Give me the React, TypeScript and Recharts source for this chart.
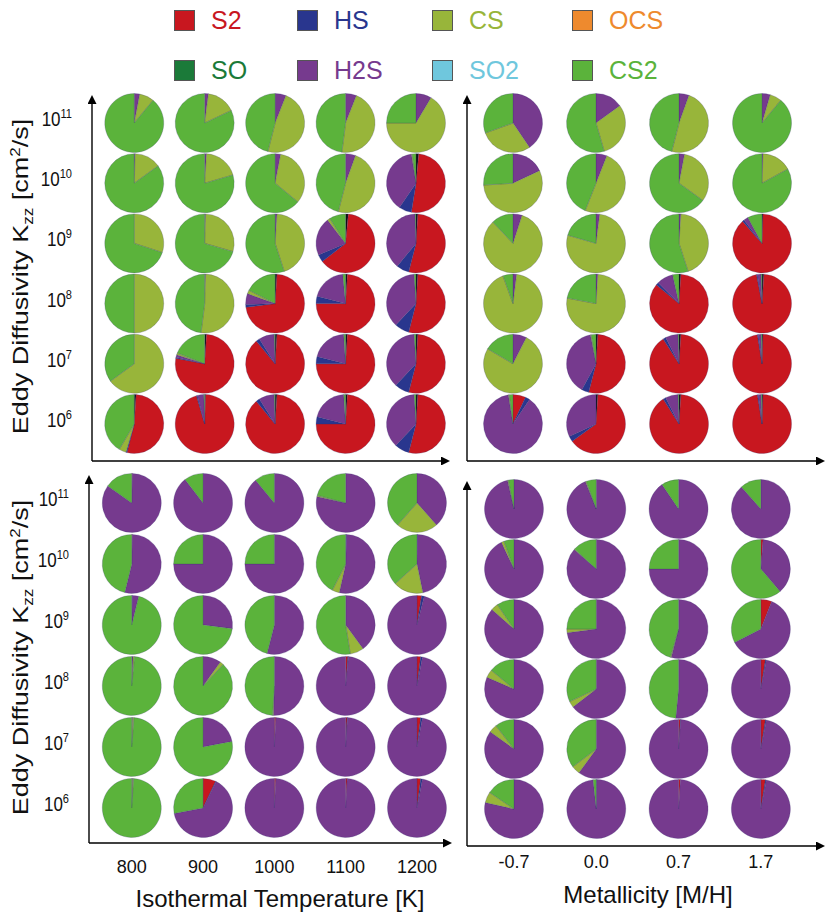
import React from "react";
import { ScatterChart, Scatter, XAxis, YAxis, Sector } from "recharts";

const species = ["S2", "HS", "CS", "OCS", "SO", "H2S", "SO2", "CS2"];
const speciesColors: Record<string, string> = {
  S2: "#C8171F",
  HS: "#29368E",
  CS: "#98B53A",
  OCS: "#EE8A2E",
  SO: "#1B7A39",
  H2S: "#763A8E",
  SO2: "#6FC7DD",
  CS2: "#5BB33B",
  trace: "#111111",
};
// slices are stacked clockwise from 12 o'clock in this order ("trace" = OCS+SO+SO2)
const sliceOrder = ["trace", "S2", "HS", "H2S", "CS", "CS2"];

const kzzExponents = [6, 7, 8, 9, 10, 11];
const temperatures = ["800", "900", "1000", "1100", "1200"];
const metallicities = ["-0.7", "0.0", "0.7", "1.7"];

// percent per slice (sliceOrder), rows = Kzz 1e6 .. 1e11
const upperTemp = [
  [[1, 53, 0.5, 0, 4, 41.5], [0.5, 95, 0.5, 3.5, 0, 0.5], [1, 88, 2, 8.5, 0, 0.5], [1, 74, 4, 20, 0, 1], [1, 53, 8, 37, 0, 1]],
  [[0, 0, 0, 0, 65, 35], [1, 77, 0.5, 1.5, 1, 19], [1, 88, 2, 8.5, 0, 0.5], [1, 74, 4, 20, 0, 1], [1, 53, 8, 37, 0, 1]],
  [[0, 0, 0, 0, 50, 50], [0, 0, 0, 0.5, 51.5, 48], [1, 72, 1.5, 6, 2, 17.5], [1, 74, 4, 19.5, 0, 1.5], [1, 53, 8, 37, 0, 1]],
  [[0, 0, 0, 0, 30, 70], [0, 0, 0, 0.5, 29, 70.5], [0, 0, 0, 1, 44, 55], [1.5, 63, 4, 21, 1.5, 9], [1, 53, 7, 38.5, 0, 0.5]],
  [[0, 0, 0, 0.5, 14.5, 85], [0, 0, 0, 1, 19.5, 79.5], [0, 0, 0, 3, 33, 64], [0, 0, 0, 5.5, 48.5, 46], [1.5, 51, 7, 38, 0.5, 2]],
  [[0, 0, 0, 3, 8, 89], [0, 0, 0, 2, 16, 82], [0, 0, 0, 6, 48, 46], [0, 0, 0, 6, 46, 48], [0, 0, 0, 8.5, 66.5, 25]],
];

const upperMetal = [
  [[0, 7, 2.5, 88, 0.5, 2], [1, 64, 3, 32, 0, 0], [1, 90, 1.5, 7, 0, 0.5], [0.5, 97, 0.5, 1.5, 0, 0.5]],
  [[0, 0, 0, 7.5, 76, 16.5], [1, 53, 4, 39, 0.5, 2.5], [1, 90, 1.5, 7, 0, 0.5], [0.5, 97, 0.5, 1.5, 0, 0.5]],
  [[0, 0, 0, 2, 92.5, 5.5], [0, 0, 0, 1, 77, 22], [1, 85, 1.5, 9, 0, 3.5], [1, 96, 0.5, 2, 0, 0.5]],
  [[0, 0, 0, 5, 83, 12], [0, 0, 0, 2, 77.5, 20.5], [0, 0, 0, 1, 44, 55], [0.5, 88, 1, 2.5, 0, 8]],
  [[0, 0, 0, 18, 56, 26], [0, 0, 0, 6, 50, 44], [0, 0, 0, 3, 32, 65], [0, 0, 0, 0.5, 16.5, 83]],
  [[0, 0, 0, 40.5, 29, 30.5], [0, 0, 0, 15, 30.5, 54.5], [0, 0, 0, 5.5, 48.5, 46], [0, 0, 0, 4.5, 6.5, 89]],
];

const lowerTemp = [
  [[0, 0, 0, 0.4, 0.6, 99], [0, 7, 0.3, 64.7, 0, 28], [0, 0.8, 0, 99.2, 0, 0], [0, 0.8, 0, 99.2, 0, 0], [0, 2, 1, 97, 0, 0]],
  [[0, 0, 0, 0.4, 0.8, 98.8], [0, 0, 0, 22, 0, 78], [0, 0.8, 0, 99.2, 0, 0], [0, 0.8, 0.2, 99, 0, 0], [0, 2, 1, 97, 0, 0]],
  [[0, 0, 0, 0.7, 0.8, 98.5], [0, 0, 0, 10, 2, 88], [0, 0, 0, 50.5, 0.5, 49], [0, 1.2, 0.3, 98.5, 0, 0], [0, 2, 1, 97, 0, 0]],
  [[0, 0, 0.3, 3.5, 0, 96.2], [0, 0, 0, 27, 0, 73], [0, 0, 0, 54, 0, 46], [0, 0, 0, 40, 7.5, 52.5], [0, 2.5, 1.5, 96, 0, 0]],
  [[0, 0.3, 0, 53.5, 0, 46.2], [0, 0, 0, 75, 0, 25], [0, 0, 0, 75, 0, 25], [0, 0, 0.5, 53, 4, 42.5], [0, 0, 0.3, 46.5, 16.5, 36.7]],
  [[0, 0.3, 0, 84.5, 0, 15.2], [0, 0, 0, 89.5, 0, 10.5], [0, 0, 0, 89, 0, 11], [0, 0, 0, 78.5, 0.7, 20.8], [0, 0, 0, 38.5, 23, 38.5]],
];

const lowerMetal = [
  [[0, 0, 0, 78.5, 6, 15.5], [0, 0, 0.3, 98, 0, 1.7], [0, 1, 0, 99, 0, 0], [0, 2.5, 0.5, 97, 0, 0]],
  [[0, 0, 0, 85, 4.5, 10.5], [0, 0, 0, 60, 4.7, 35.3], [0, 1, 0.2, 98.8, 0, 0], [0, 2.5, 0.5, 97, 0, 0]],
  [[0, 0, 0, 81.5, 4.5, 14], [0, 0, 0, 64.5, 3.5, 32], [0, 0, 0, 51.5, 0, 48.5], [0, 2.5, 0.5, 97, 0, 0]],
  [[0, 0, 0, 86.5, 4, 9.5], [0, 0, 0, 73, 2, 25], [0, 0, 0, 54, 0.5, 45.5], [0, 6, 0, 61.5, 0, 32.5]],
  [[0, 0, 0, 93, 1.5, 5.5], [0, 0, 0, 86.5, 0.3, 13.2], [0, 0, 0, 75, 0, 25], [0, 1.2, 0, 37.5, 0, 61.3]],
  [[0, 0, 0, 96.5, 0.5, 3], [0, 0, 0, 94, 0.5, 5.5], [0, 0, 0, 90.5, 0, 9.5], [0, 0, 0, 88.5, 0, 11.5]],
];

const FONT = "'Liberation Sans', Arial, Helvetica, sans-serif";
const R = 29.5;
const PAD = 14;

const PieGlyph = (props: any) => {
  const { cx, cy, payload } = props;
  const vals: number[] = payload.v;
  const total = vals.reduce((a, b) => a + b, 0);
  let acc = 0;
  return (
    <g>
      {vals.map((val, i) => {
        if (!val) return null;
        const a0 = (acc / total) * 360;
        acc += val;
        const a1 = (acc / total) * 360;
        return (
          <Sector
            key={i}
            cx={cx}
            cy={cy}
            innerRadius={0}
            outerRadius={R}
            startAngle={90 - a0}
            endAngle={90 - a1}
            fill={speciesColors[sliceOrder[i]]}
            stroke="rgba(50,50,110,0.45)"
            strokeWidth={0.5}
          />
        );
      })}
    </g>
  );
};

type PanelProps = {
  rows: number[][][];
  labels: string[];
  box: { left: number; top: number; right: number; bottom: number };
  xDomain: [number, number];
  yDomain: [number, number];
  yTicks?: boolean;
  yTitleDy?: number;
  xTitle?: string;
  xTickDy?: number;
  xTitleX?: number;
  xTitleY?: number;
};

const Panel = ({ rows, labels, box, xDomain, yDomain, yTicks, yTitleDy = 0, xTitle, xTickDy = 0, xTitleX = 0, xTitleY = 0 }: PanelProps) => {
  const plotW = box.right - box.left;
  const plotH = box.bottom - box.top;
  const yW = yTicks ? box.left - 4 : 6;
  const xH = xTitle ? 914 - box.bottom : 4;
  const chartLeft = box.left - yW;
  const chartTop = box.top - PAD;
  const data = rows.flatMap((row, ri) => row.map((v, ci) => ({ col: ci, kzz: kzzExponents[ri], v })));
  const axisStyle = { stroke: "#000", strokeWidth: 1.4 };

  return (
    <div style={{ position: "absolute", left: chartLeft, top: chartTop }}>
      <ScatterChart
        width={yW + plotW + PAD}
        height={PAD + plotH + xH}
        margin={{ top: PAD, right: PAD, bottom: 0, left: 0 }}
      >
        <XAxis
          type="number"
          dataKey="col"
          domain={xDomain}
          ticks={labels.map((_, i) => i)}
          interval={0}
          height={xH}
          tickLine={false}
          axisLine={{ ...axisStyle, markerEnd: "url(#axisArrow)" }}
          tick={
            xTitle
              ? (p: any) => (
                  <text x={p.x} y={PAD + plotH + xTickDy} textAnchor="middle" fontSize={18} fill="#111" fontFamily={FONT}>
                    {labels[p.payload.value]}
                  </text>
                )
              : false
          }
          label={
            xTitle
              ? {
                  content: () => (
                    <text x={xTitleX - chartLeft} y={xTitleY - chartTop} textAnchor="middle" fontSize={24} fill="#111" fontFamily={FONT}>
                      {xTitle}
                    </text>
                  ),
                }
              : undefined
          }
        />
        <YAxis
          type="number"
          dataKey="kzz"
          domain={yDomain}
          ticks={kzzExponents}
          interval={0}
          width={yW}
          tickLine={false}
          axisLine={{ ...axisStyle, markerStart: "url(#axisArrow)" }}
          tick={
            yTicks
              ? (p: any) => (
                  <text
                    transform={`translate(${yW - 20},${p.y + 3}) scale(0.85,1)`}
                    textAnchor="end"
                    fontSize={20}
                    fill="#111"
                    fontFamily={FONT}
                  >
                    10
                    <tspan dy={-8} fontSize={13}>
                      {p.payload.value}
                    </tspan>
                  </text>
                )
              : false
          }
          label={
            yTicks
              ? {
                  content: () => (
                    <text
                      transform={`translate(${28 - chartLeft},${PAD + plotH / 2 + yTitleDy}) scale(0.82,1) rotate(-90)`}
                      textAnchor="middle"
                      fontSize={27}
                      fill="#111"
                      fontFamily={FONT}
                    >
                      Eddy Diffusivity K
                      <tspan dy={6} fontSize={17}>
                        zz
                      </tspan>
                      <tspan dy={-6}> [cm</tspan>
                      <tspan dy={-10} fontSize={17}>
                        2
                      </tspan>
                      <tspan dy={10}>/s]</tspan>
                    </text>
                  ),
                }
              : undefined
          }
        />
        <Scatter data={data} shape={PieGlyph} isAnimationActive={false} />
      </ScatterChart>
    </div>
  );
};

const Legend = () => (
  <div
    style={{
      position: "absolute",
      left: 174,
      top: 10,
      display: "grid",
      gridTemplateColumns: "123px 135px 140px 100px",
      rowGap: 29,
      fontFamily: FONT,
    }}
  >
    {species.map((s) => (
      <div key={s} style={{ display: "flex", alignItems: "center", height: 21 }}>
        <div
          style={{
            width: 21,
            height: 21,
            boxSizing: "border-box",
            background: speciesColors[s],
            border: "1.5px solid #555",
          }}
        />
        <span style={{ marginLeft: 16, fontSize: 25, lineHeight: 1, color: speciesColors[s] }}>{s}</span>
      </div>
    ))}
  </div>
);

export default function App() {
  return (
    <div style={{ position: "absolute", left: 0, top: 0, width: 830, height: 916, background: "#fff", overflow: "hidden" }}>
      <svg width={0} height={0} style={{ position: "absolute" }}>
        <defs>
          <marker
            id="axisArrow"
            viewBox="0 0 10 10"
            refX={0}
            refY={5}
            markerWidth={10}
            markerHeight={9}
            markerUnits="userSpaceOnUse"
            orient="auto-start-reverse"
          >
            <path d="M0,0 L10,5 L0,10 z" fill="#000" />
          </marker>
        </defs>
      </svg>
      <Legend />
      <Panel
        rows={upperTemp}
        labels={temperatures}
        box={{ left: 92, top: 104, right: 441, bottom: 461 }}
        xDomain={[-0.6, 4.355]}
        yDomain={[5.385, 11.316]}
        yTicks
        yTitleDy={-6}
      />
      <Panel
        rows={upperMetal}
        labels={metallicities}
        box={{ left: 467, top: 104, right: 816, bottom: 461 }}
        xDomain={[-0.554, 3.65]}
        yDomain={[5.385, 11.316]}
      />
      <Panel
        rows={lowerTemp}
        labels={temperatures}
        box={{ left: 89, top: 484, right: 443, bottom: 843 }}
        xDomain={[-0.6, 4.365]}
        yDomain={[5.426, 11.31]}
        yTicks
        yTitleDy={-6}
        xTitle="Isothermal Temperature [K]"
        xTickDy={30}
        xTitleX={280}
        xTitleY={907}
      />
      <Panel
        rows={lowerMetal}
        labels={metallicities}
        box={{ left: 467, top: 490, right: 816, bottom: 846 }}
        xDomain={[-0.571, 3.67]}
        yDomain={[5.383, 11.317]}
        xTitle="Metallicity [M/H]"
        xTickDy={22}
        xTitleX={648}
        xTitleY={903}
      />
    </div>
  );
}
